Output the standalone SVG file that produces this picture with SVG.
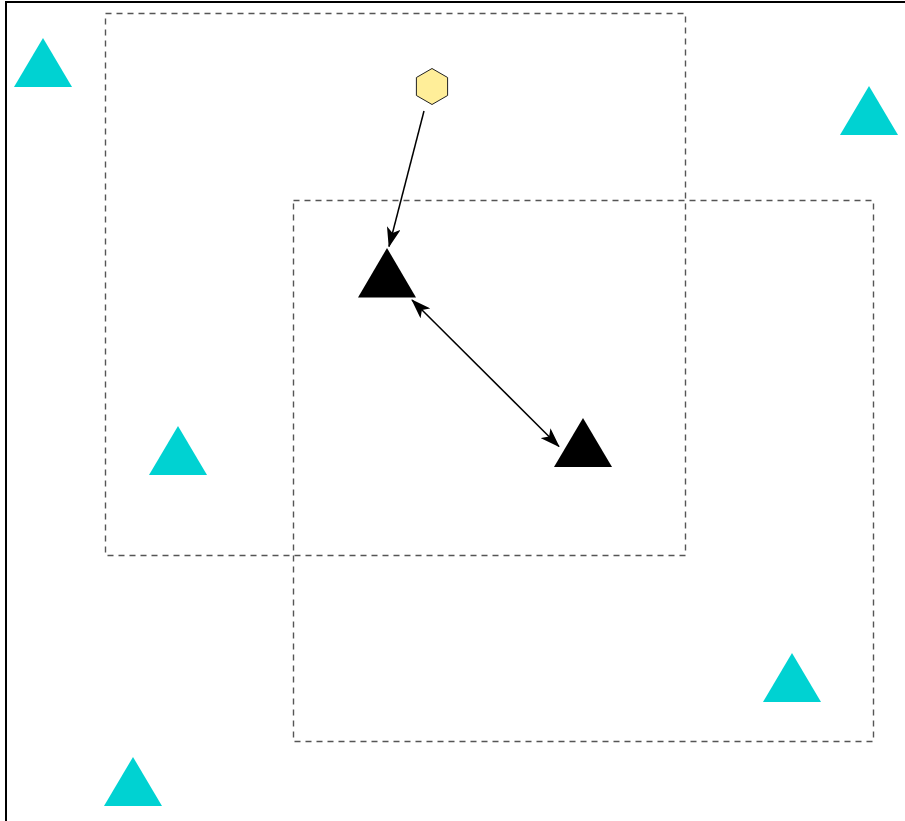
<svg xmlns="http://www.w3.org/2000/svg" width="905" height="821" viewBox="0 0 905 821">
<style>
.frame{fill:none;stroke:#000;stroke-width:2}
.zone{fill:none;stroke:#555;stroke-width:1.4;stroke-dasharray:6 5}
.cyan{fill:#00D2D2}
.blk{fill:#000}
.hex{fill:#FFEE99;stroke:#222;stroke-width:1}
.edge{fill:none;stroke:#000;stroke-width:1.5}
</style>
<defs>
<marker id="ah" viewBox="0 0 20 14" refX="19" refY="7" markerWidth="20" markerHeight="14" markerUnits="userSpaceOnUse" orient="auto-start-reverse">
<path d="M0,0 L20,7 L0,14 L5,7 Z" fill="#000"/>
</marker>
</defs>
<rect width="905" height="821" fill="#fff"/>
<rect class="frame" x="6" y="2" width="910" height="830"/>
<g id="zones">
<rect id="zone1" class="zone" x="105.5" y="13.5" width="580" height="542"/>
<rect id="zone2" class="zone" x="293.5" y="200.5" width="580" height="541"/>
</g>
<g id="t1"><polygon class="cyan" points="43,38 72,87 14,87"/></g>
<g id="t2"><polygon class="cyan" points="869,86 898,135 840,135"/></g>
<g id="t3"><polygon class="cyan" points="178,426 207,475 149,475"/></g>
<g id="t4"><polygon class="cyan" points="133,757 162,806 104,806"/></g>
<g id="t5"><polygon class="cyan" points="792,653 821,702 763,702"/></g>
<g id="hex"><polygon class="hex" points="432,68.5 447.6,77.5 447.6,95.5 432,104.5 416.4,95.5 416.4,77.5"/></g>
<g id="b1"><polygon class="blk" points="387,248 416,297.5 358,297.5"/></g>
<g id="b2"><polygon class="blk" points="583,418 612,467 554,467"/></g>
<g id="connectors">
<line class="edge" x1="424" y1="111" x2="389" y2="246.5" marker-end="url(#ah)"/>
<line class="edge" x1="412" y1="300" x2="559" y2="446.5" marker-start="url(#ah)" marker-end="url(#ah)"/>
</g>
</svg>
